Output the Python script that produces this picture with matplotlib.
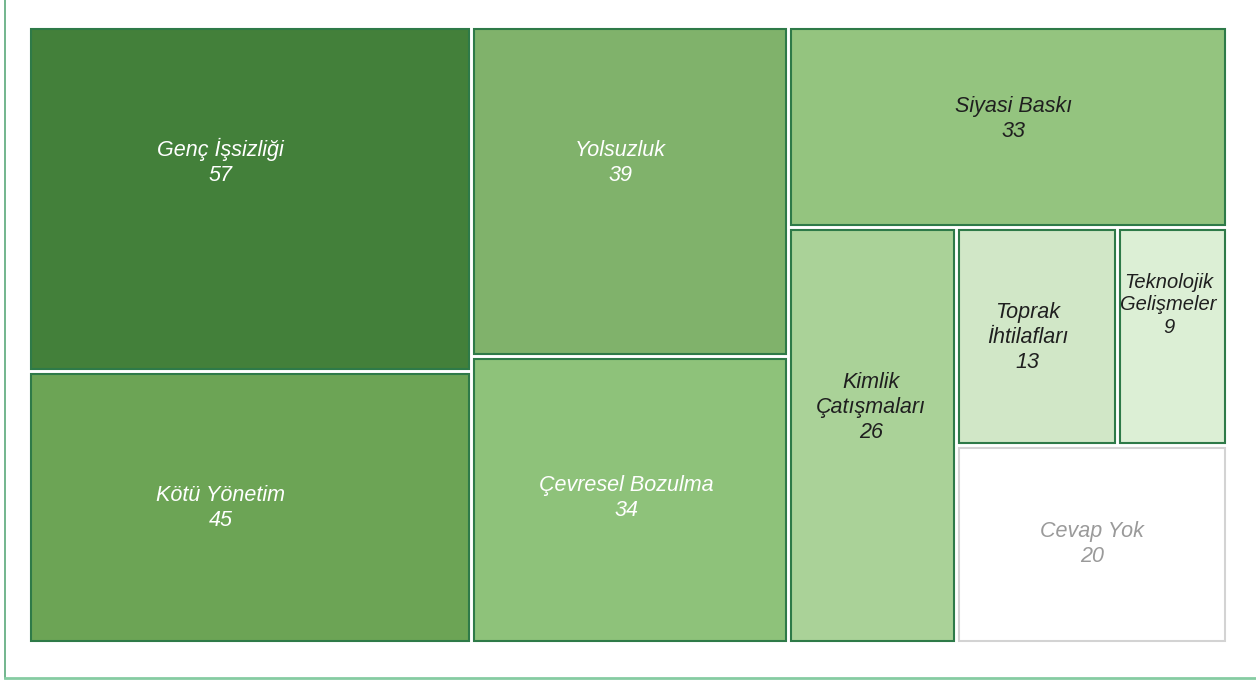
import matplotlib
matplotlib.use("Agg")
import matplotlib.pyplot as plt
from matplotlib.patches import Rectangle
from matplotlib.lines import Line2D
from matplotlib import font_manager

# ---- data ----
labels = ["Genç İşsizliği", "Kötü Yönetim", "Yolsuzluk", "Çevresel Bozulma",
          "Siyasi Baskı", "Kimlik\nÇatışmaları", "Toprak\nİhtilafları",
          "Teknolojik\nGelişmeler", "Cevap Yok"]
values = [57, 45, 39, 34, 33, 26, 13, 9, 20]
# number of items placed in each successive strip of the treemap
strip_sizes = [2, 2, 1, 1, 2, 1]

# ---- styles ----
fills = ["#43803a", "#6ca455", "#80b26b", "#8ec27a", "#94c47f",
         "#aad298", "#d1e7c7", "#dcefd5", "#ffffff"]
edges = ["#2e7a48"] * 8 + ["#d3d3d3"]
text_colors = ["white", "white", "white", "white", "#1f1f1f",
               "#1f1f1f", "#1f1f1f", "#1f1f1f", "#9a9a9a"]
font_sizes = [15.5, 15.5, 15.5, 15.5, 15.5, 15.5, 15.5, 15.5, 15.5]
# label nudges in pixels (dx, dy; dy positive = down)
label_nudge = [(-29, -37), (-29, 0), (-10, -28), (-4, -2), (5, -8),
               (-2, -28), (-9, 1), (-4, -32), (0, -1)]

installed = {f.name for f in font_manager.fontManager.ttflist}
base = ["Liberation Sans", "DejaVu Sans"]
if "Liberation Sans Narrow" in installed:
    narrow = ["Liberation Sans Narrow"] + base
    font_sizes[7] = 15.5
else:
    narrow = base
    font_sizes[7] = 14.5
families = [base] * 7 + [narrow] + [base]


def strip_layout(vals, groups, x, y, w, h):
    rects = []
    i = 0
    remaining = float(sum(vals))
    for n in groups:
        part = vals[i:i + n]
        s = float(sum(part))
        if w >= h:  # column strip along the shorter (vertical) side
            sw = w * s / remaining
            yy = y
            for v in part:
                ch = h * v / s
                rects.append((x, yy, sw, ch))
                yy += ch
            x += sw
            w -= sw
        else:  # row strip along the shorter (horizontal) side
            sh = h * s / remaining
            xx = x
            for v in part:
                cw = w * v / s
                rects.append((xx, y, cw, sh))
                xx += cw
            y += sh
            h -= sh
        remaining -= s
        i += n
    return rects


W_PX, H_PX = 1256, 680
fig = plt.figure(figsize=(W_PX / 100, H_PX / 100), dpi=100)
fig.patch.set_facecolor("white")

ax_left, ax_top, ax_w, ax_h = 28, 26, 1200, 618
ax = fig.add_axes([ax_left / W_PX, 1 - (ax_top + ax_h) / H_PX, ax_w / W_PX, ax_h / H_PX])
ax.set_xlim(0, ax_w)
ax.set_ylim(ax_h, 0)
ax.axis("off")

rects = strip_layout(values, strip_sizes, 0, 0, ax_w, ax_h)

gap = 1.5       # half of the white gap in px
lw_pt = 1.5
lw_px = lw_pt * 100 / 72
for k, (x, y, w, h) in enumerate(rects):
    ins = gap + lw_px / 2
    ax.add_patch(Rectangle((x + ins, y + ins), w - 2 * ins, h - 2 * ins,
                           facecolor=fills[k], edgecolor=edges[k],
                           linewidth=lw_pt, joinstyle="miter"))
    dx, dy = label_nudge[k]
    ax.text(x + w / 2 + dx, y + h / 2 + dy, f"{labels[k]}\n{values[k]}",
            ha="center", va="center", multialignment="center",
            fontsize=font_sizes[k], fontstyle="italic",
            family=families[k],
            color=text_colors[k], linespacing=1.25)

# outer frame (left and bottom lines)
fig.add_artist(Line2D([4.5 / W_PX, 4.5 / W_PX], [2 / H_PX, 1.0],
                      transform=fig.transFigure, color="#5aa97a", linewidth=1.2))
fig.add_artist(Line2D([4.5 / W_PX, 1.0], [2 / H_PX, 2 / H_PX],
                      transform=fig.transFigure, color="#86cca2", linewidth=2.0))

fig.savefig("out.png", dpi=100, facecolor="white")
